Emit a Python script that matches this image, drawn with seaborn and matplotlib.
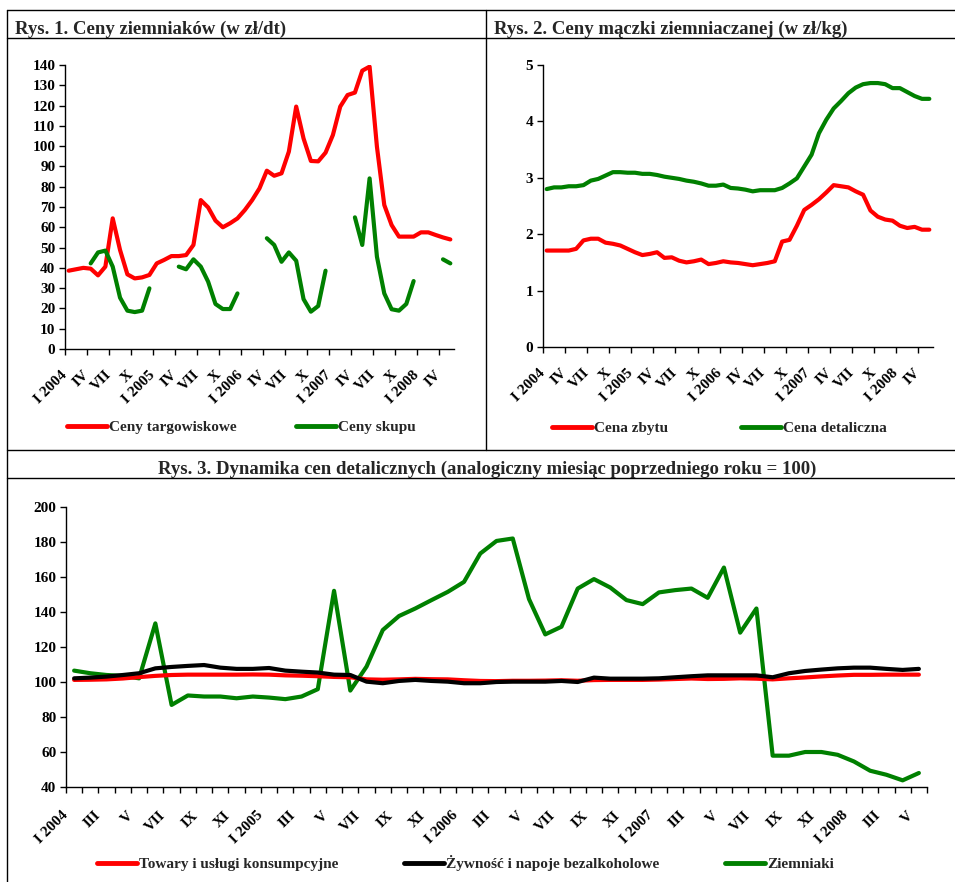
import numpy as np
import pandas as pd
import matplotlib
matplotlib.use("Agg")
import matplotlib.pyplot as plt
from matplotlib.lines import Line2D
import seaborn as sns

# Rys. 1 - ceny ziemniaków (zł/dt), I 2004 - V 2008
ceny_targowiskowe = [38.6, 39.3, 40.0, 39.6, 36.3, 40.6, 64.4, 48.8, 36.8, 34.8,
                     35.3, 36.5, 42.2, 43.9, 45.8, 45.8, 46.3, 51.3, 73.4, 69.8,
                     63.3, 60.0, 62.0, 64.4, 68.5, 73.4, 79.2, 87.9, 85.4, 86.6,
                     97.3, 119.5, 103.8, 92.7, 92.5, 96.8, 105.5, 119.5, 125.2, 126.4,
                     137.2, 139.2, 99.7, 71.0, 61.1, 55.4, 55.4, 55.4, 57.5, 57.5,
                     56.2, 55.0, 54.0]
nan = np.nan
ceny_skupu = [nan, nan, nan, 42.2, 47.6, 48.5, 40.6, 25.3, 18.9, 18.2,
              18.9, 29.9, nan, nan, nan, 40.6, 39.3, 44.2, 40.6, 33.2,
              22.2, 19.7, 19.7, 27.4, nan, nan, nan, 54.6, 51.3, 43.0,
              47.6, 43.5, 24.6, 18.4, 21.2, 38.6, nan, nan, nan, 64.9,
              51.3, 84.1, 45.5, 27.4, 19.6, 18.9, 22.2, 33.5, nan, nan,
              nan, 44.2, 42.2]

# Rys. 2 - ceny mączki ziemniaczanej (zł/kg)
cena_zbytu = [1.71, 1.71, 1.71, 1.71, 1.74, 1.89, 1.92, 1.92, 1.85, 1.83,
              1.80, 1.74, 1.68, 1.63, 1.65, 1.68, 1.58, 1.59, 1.53, 1.50,
              1.52, 1.55, 1.47, 1.49, 1.52, 1.50, 1.49, 1.47, 1.45, 1.47,
              1.49, 1.52, 1.87, 1.90, 2.15, 2.43, 2.52, 2.62, 2.74, 2.87,
              2.85, 2.83, 2.76, 2.70, 2.42, 2.31, 2.26, 2.24, 2.15, 2.11,
              2.13, 2.08, 2.08]
cena_detaliczna = [2.80, 2.83, 2.83, 2.85, 2.85, 2.87, 2.95, 2.98, 3.04, 3.10,
                   3.10, 3.09, 3.09, 3.07, 3.07, 3.05, 3.02, 3.00, 2.98, 2.95,
                   2.93, 2.90, 2.86, 2.86, 2.88, 2.82, 2.81, 2.79, 2.76, 2.78,
                   2.78, 2.78, 2.82, 2.90, 2.99, 3.20, 3.41, 3.79, 4.03, 4.23,
                   4.36, 4.50, 4.60, 4.66, 4.68, 4.68, 4.66, 4.59, 4.59, 4.52,
                   4.45, 4.40, 4.40]

# Rys. 3 - dynamika cen detalicznych (analogiczny miesiąc poprzedniego roku = 100)
towary_uslugi = [101.2, 101.3, 101.5, 102.0, 102.8, 103.5, 104.0, 104.2, 104.2, 104.2,
                 104.2, 104.3, 104.2, 103.8, 103.6, 103.3, 102.9, 102.7, 101.5, 101.3,
                 101.5, 101.8, 101.6, 101.5, 101.0, 100.6, 100.5, 100.7, 100.7, 100.8,
                 101.0, 100.7, 101.1, 101.2, 101.2, 101.2, 101.4, 101.7, 102.0, 101.7,
                 101.8, 102.1, 101.9, 101.5, 102.1, 102.6, 103.2, 103.7, 104.1, 104.1,
                 104.2, 104.2, 104.2]
zywnosc = [102.1, 102.5, 103.1, 104.0, 105.0, 107.8, 108.6, 109.2, 109.7, 108.2,
           107.5, 107.5, 108.0, 106.5, 105.9, 105.4, 104.2, 104.0, 100.2, 99.3,
           100.6, 101.2, 100.6, 100.2, 99.3, 99.3, 100.0, 100.2, 100.2, 100.2,
           100.6, 100.0, 102.5, 101.9, 101.9, 101.9, 102.1, 102.7, 103.3, 103.8,
           103.8, 103.8, 103.8, 102.7, 105.0, 106.3, 107.1, 107.8, 108.2, 108.2,
           107.5, 106.9, 107.5]
ziemniaki = [106.5, 105.0, 104.0, 103.5, 102.1, 133.5, 86.9, 92.3, 91.7, 91.7,
             90.7, 91.7, 91.1, 90.2, 91.7, 95.9, 152.1, 95.1, 108.8, 129.7,
             137.7, 142.0, 146.8, 151.5, 157.2, 173.4, 180.6, 182.0, 147.4, 127.2,
             131.6, 153.4, 158.8, 154.0, 146.8, 144.5, 151.2, 152.5, 153.4, 148.1,
             165.4, 128.2, 142.0, 57.9, 57.9, 60.0, 60.0, 58.4, 54.6, 49.3,
             47.0, 43.8, 48.0]

labels_q = ['I 2004', 'IV', 'VII', 'X', 'I 2005', 'IV', 'VII', 'X',
            'I 2006', 'IV', 'VII', 'X', 'I 2007', 'IV', 'VII', 'X',
            'I 2008', 'IV']
labels_m = ['I 2004', 'III', 'V', 'VII', 'IX', 'XI', 'I 2005', 'III', 'V',
            'VII', 'IX', 'XI', 'I 2006', 'III', 'V', 'VII', 'IX', 'XI',
            'I 2007', 'III', 'V', 'VII', 'IX', 'XI', 'I 2008', 'III', 'V']

RED = '#ff0000'
GREEN = '#008000'
FONT = 'Liberation Serif'

sns.set_theme(style='white')
plt.rcParams['font.family'] = [FONT, 'DejaVu Serif']
plt.rcParams['font.weight'] = 'bold'

n = len(ceny_targowiskowe)
x = np.arange(n) + 0.5   # category centres

W, H = 955, 882
fig = plt.figure(figsize=(W / 100, H / 100), dpi=100)


def box(l, t, r, b):
    return [l / W, 1 - b / H, (r - l) / W, (b - t) / H]


def style_axis(ax, ticks, labels, step_labels, xpad):
    for s in ['top', 'right']:
        ax.spines[s].set_visible(False)
    for s in ['left', 'bottom']:
        ax.spines[s].set_color('black')
        ax.spines[s].set_linewidth(1.0)
    ax.set_xlim(0, n)
    ax.set_xticks(ticks)
    lab = [''] * len(ticks)
    for k, t in enumerate(labels):
        lab[k * step_labels] = t
    ax.set_xticklabels(lab, rotation=45, ha='right', va='center',
                       rotation_mode='anchor',
                       fontsize=11, fontweight='bold', family=FONT)
    ax.tick_params(axis='both', direction='out', length=4, width=1,
                   color='black', labelcolor='black', pad=3, bottom=True, left=True)
    ax.tick_params(axis='x', pad=xpad)
    for t in ax.get_yticklabels():
        t.set_fontsize(11)
        t.set_fontweight('bold')
    ax.set_xlabel('')
    ax.set_ylabel('')
    ax.grid(False)


# ---- Rys. 1
ax1 = fig.add_axes(box(65, 65, 454, 349))
sns.lineplot(x=x, y=ceny_targowiskowe, color=RED, lw=3, ax=ax1)
df_skup = pd.DataFrame({'x': x, 'y': ceny_skupu})
df_skup['seg'] = df_skup['y'].isna().cumsum()
df_skup = df_skup.dropna()
sns.lineplot(data=df_skup, x='x', y='y', units='seg', estimator=None,
             color=GREEN, lw=3, ax=ax1)
ax1.set_ylim(0, 140)
ax1.set_yticks(range(0, 141, 10))
style_axis(ax1, np.arange(0, 52, 3), labels_q, 1, 13)

# ---- Rys. 2
ax2 = fig.add_axes(box(543, 65, 933, 347))
sns.lineplot(x=x, y=cena_zbytu, color=RED, lw=3, ax=ax2)
sns.lineplot(x=x, y=cena_detaliczna, color=GREEN, lw=3, ax=ax2)
ax2.set_ylim(0, 5)
ax2.set_yticks(range(0, 6))
style_axis(ax2, np.arange(0, 52, 3), labels_q, 1, 13)

# ---- Rys. 3
ax3 = fig.add_axes(box(66, 507, 927, 787))
sns.lineplot(x=x, y=ziemniaki, color=GREEN, lw=3, ax=ax3)
sns.lineplot(x=x, y=towary_uslugi, color=RED, lw=3, ax=ax3)
sns.lineplot(x=x, y=zywnosc, color='black', lw=3, ax=ax3)
ax3.set_ylim(40, 200)
ax3.set_yticks(range(40, 201, 20))
style_axis(ax3, np.arange(0, n + 1, 1), labels_m, 2, 15)


# ---- legends
def legend(ax, items, anchor, spacing):
    handles = [Line2D([], [], color=c, lw=3.5) for c, _ in items]
    ax.legend(handles, [t for _, t in items], loc='center left',
              bbox_to_anchor=(anchor[0] / W, 1 - anchor[1] / H),
              bbox_transform=fig.transFigure, ncol=len(items), frameon=False,
              borderpad=0, borderaxespad=0, handlelength=2.6, handletextpad=0.15,
              columnspacing=spacing,
              prop={'family': FONT, 'weight': 'bold', 'size': 11})


legend(ax1, [(RED, 'Ceny targowiskowe'), (GREEN, 'Ceny skupu')], (67, 427), 3.9)
legend(ax2, [(RED, 'Cena zbytu'), (GREEN, 'Cena detaliczna')], (552, 428), 4.8)
legend(ax3, [(RED, 'Towary i usługi konsumpcyjne'),
             ('black', 'Żywność i napoje bezalkoholowe'),
             (GREEN, 'Ziemniaki')], (97, 863), 4.3)

# ---- titles
fig.text(15 / W, 1 - 34 / H, 'Rys. 1. Ceny ziemniaków (w zł/dt)', fontsize=13.5,
         fontweight='bold', va='baseline', ha='left')
fig.text(494 / W, 1 - 34 / H, 'Rys. 2. Ceny mączki ziemniaczanej (w zł/kg)', fontsize=13.5,
         fontweight='bold', va='baseline', ha='left')
fig.text(487 / W, 1 - 474 / H,
         'Rys. 3. Dynamika cen detalicznych (analogiczny miesiąc poprzedniego roku = 100)',
         fontsize=13.5, fontweight='bold', va='baseline', ha='center')


# ---- frame lines
def hline(y, x0, x1):
    fig.add_artist(Line2D([x0 / W, x1 / W], [1 - y / H, 1 - y / H],
                          transform=fig.transFigure, color='black', lw=1.0))


def vline(xx, y0, y1):
    fig.add_artist(Line2D([xx / W, xx / W], [1 - y0 / H, 1 - y1 / H],
                          transform=fig.transFigure, color='black', lw=1.0))


hline(10, 7, W)
hline(38, 7, W)
hline(450, 7, W)
hline(478, 7, W)
vline(7, 10, H)
vline(486, 10, 450)

fig.savefig('out.png', dpi=100, facecolor='white')
